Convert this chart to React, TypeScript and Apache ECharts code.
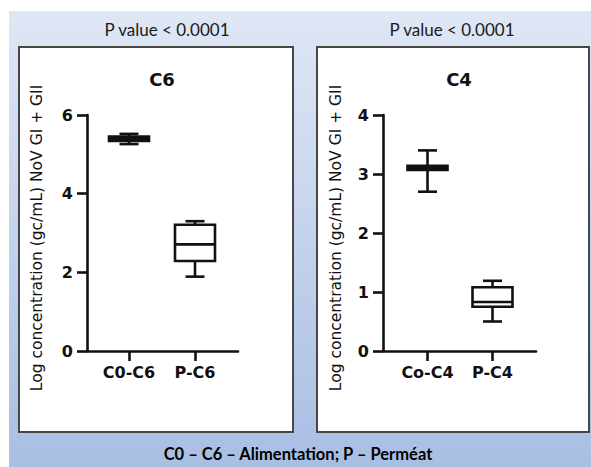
import React, { useEffect, useRef } from "react";
import * as echarts from "echarts";

// C6 panel: five-number summaries per group
const c6Categories = ["C0-C6", "P-C6"];
const c6Min = [5.26, 1.89];
const c6Q1 = [5.34, 2.29];
const c6Median = [5.4, 2.71];
const c6Q3 = [5.45, 3.21];
const c6Max = [5.52, 3.3];

// C4 panel
const c4Categories = ["Co-C4", "P-C4"];
const c4Min = [2.7, 0.5];
const c4Q1 = [3.07, 0.75];
const c4Median = [3.1, 0.83];
const c4Q3 = [3.14, 1.08];
const c4Max = [3.4, 1.19];

const pValueText = "P value < 0.0001";
const yAxisTitle = "Log concentration (gc/mL) NoV GI + GII";
const footerText = "C0 – C6 – Alimentation; P – Perméat";

const BOX_W = 40;
const CAP_W = 19;
const LW = 2.6;
const INK = "#111";
const AXIS_FONT = "DejaVu Sans";

function rows(min: number[], q1: number[], med: number[], q3: number[], max: number[]) {
  return min.map((_, i) => [i, min[i], q1[i], med[i], q3[i], max[i]]);
}

function renderBox(_params: any, api: any) {
  const i = api.value(0);
  const lo = api.coord([i, api.value(1)]);
  const q1 = api.coord([i, api.value(2)]);
  const md = api.coord([i, api.value(3)]);
  const q3 = api.coord([i, api.value(4)]);
  const hi = api.coord([i, api.value(5)]);
  const cx = md[0];
  const line = { stroke: INK, lineWidth: LW };
  return {
    type: "group",
    children: [
      { type: "line", shape: { x1: cx, y1: hi[1], x2: cx, y2: q3[1] }, style: line },
      { type: "line", shape: { x1: cx, y1: q1[1], x2: cx, y2: lo[1] }, style: line },
      { type: "line", shape: { x1: cx - CAP_W / 2, y1: hi[1], x2: cx + CAP_W / 2, y2: hi[1] }, style: line },
      { type: "line", shape: { x1: cx - CAP_W / 2, y1: lo[1], x2: cx + CAP_W / 2, y2: lo[1] }, style: line },
      {
        type: "rect",
        shape: { x: cx - BOX_W / 2, y: q3[1], width: BOX_W, height: q1[1] - q3[1] },
        style: { fill: "#fff", stroke: INK, lineWidth: LW },
      },
      { type: "line", shape: { x1: cx - BOX_W / 2, y1: md[1], x2: cx + BOX_W / 2, y2: md[1] }, style: line },
    ],
  };
}

function frameAxes(gridIndex: number, max: number, interval: number) {
  const x = {
    type: "value",
    gridIndex,
    min: 0,
    max: 1,
    axisLine: { show: true, onZero: false, lineStyle: { color: INK, width: LW } },
    axisTick: { show: false },
    axisLabel: { show: false },
    splitLine: { show: false },
  };
  const y = {
    type: "value",
    gridIndex,
    min: 0,
    max,
    interval,
    axisLine: { show: true, lineStyle: { color: INK, width: LW } },
    axisTick: { show: true, length: 10, lineStyle: { color: INK, width: LW } },
    axisLabel: { margin: 14, color: INK, fontFamily: AXIS_FONT, fontWeight: "bold", fontSize: 16 },
    splitLine: { show: false },
  };
  return { x, y };
}

function boxAxes(gridIndex: number, cats: string[], max: number) {
  const x = {
    type: "category",
    gridIndex,
    data: cats,
    axisLine: { show: false },
    axisTick: { show: true, interval: 0, alignWithLabel: true, length: 10, lineStyle: { color: INK, width: LW } },
    axisLabel: {
      interval: 0,
      hideOverlap: false,
      margin: 13,
      color: INK,
      fontFamily: AXIS_FONT,
      fontWeight: "bold",
      fontSize: 16,
    },
    splitLine: { show: false },
  };
  const y = { type: "value", gridIndex, min: 0, max, show: false, splitLine: { show: false } };
  return { x, y };
}

export default function App() {
  const ref = useRef<HTMLDivElement>(null);

  useEffect(() => {
    document.body.style.margin = "0";
    if (!ref.current) return;
    const chart = echarts.init(ref.current, null, { renderer: "svg" });

    const f6 = frameAxes(0, 6, 2);
    const b6 = boxAxes(1, c6Categories, 6);
    const f4 = frameAxes(2, 4, 1);
    const b4 = boxAxes(3, c4Categories, 4);

    const txt = (x: number, y: number, text: string, style: any, rotation = 0) => ({
      type: "text",
      x,
      y,
      rotation,
      silent: true,
      style: { text, align: "center", verticalAlign: "middle", fill: INK, ...style },
    });

    chart.setOption({
      animation: false,
      backgroundColor: "#ffffff",
      grid: [
        { left: 87, top: 115, width: 151, height: 236 },
        { left: 96, top: 115, width: 132, height: 236 },
        { left: 383, top: 115, width: 153, height: 236 },
        { left: 395, top: 115, width: 130, height: 236 },
      ],
      xAxis: [f6.x, b6.x, f4.x, b4.x],
      yAxis: [f6.y, b6.y, f4.y, b4.y],
      series: [
        {
          type: "custom",
          xAxisIndex: 1,
          yAxisIndex: 1,
          renderItem: renderBox,
          encode: { x: 0, y: [1, 2, 3, 4, 5] },
          data: rows(c6Min, c6Q1, c6Median, c6Q3, c6Max),
          z: 5,
        },
        {
          type: "custom",
          xAxisIndex: 3,
          yAxisIndex: 3,
          renderItem: renderBox,
          encode: { x: 0, y: [1, 2, 3, 4, 5] },
          data: rows(c4Min, c4Q1, c4Median, c4Q3, c4Max),
          z: 5,
        },
      ],
      graphic: [
        {
          type: "rect",
          z: -10,
          silent: true,
          shape: { x: 9, y: 11, width: 582, height: 456 },
          style: {
            fill: new echarts.graphic.LinearGradient(0, 0, 0, 1, [
              { offset: 0, color: "#dfe7f5" },
              { offset: 1, color: "#a8bee3" },
            ]),
          },
        },
        {
          type: "rect",
          z: -9,
          silent: true,
          shape: { x: 19, y: 47, width: 274, height: 385 },
          style: { fill: "#ffffff", stroke: "#474747", lineWidth: 2 },
        },
        {
          type: "rect",
          z: -9,
          silent: true,
          shape: { x: 317, y: 47, width: 272, height: 385 },
          style: { fill: "#ffffff", stroke: "#474747", lineWidth: 2 },
        },
        txt(167, 29, pValueText, { fontFamily: "Lato", fontSize: 17, fill: "#1a1a1a" }),
        txt(452, 29, pValueText, { fontFamily: "Lato", fontSize: 17, fill: "#1a1a1a" }),
        txt(162, 79, "C6", { fontFamily: AXIS_FONT, fontWeight: "bold", fontSize: 18 }),
        txt(459, 79, "C4", { fontFamily: AXIS_FONT, fontWeight: "bold", fontSize: 18 }),
        txt(37, 238, yAxisTitle, { fontFamily: AXIS_FONT, fontSize: 15.5 }, Math.PI / 2),
        txt(336, 238, yAxisTitle, { fontFamily: AXIS_FONT, fontSize: 15.5 }, Math.PI / 2),
        txt(298, 454, footerText, { fontFamily: "Lato", fontWeight: "bold", fontSize: 16.5, fill: "#000" }),
      ],
    });

    return () => chart.dispose();
  }, []);

  return <div ref={ref} style={{ width: 591, height: 467, position: "absolute", left: 0, top: 0 }} />;
}
